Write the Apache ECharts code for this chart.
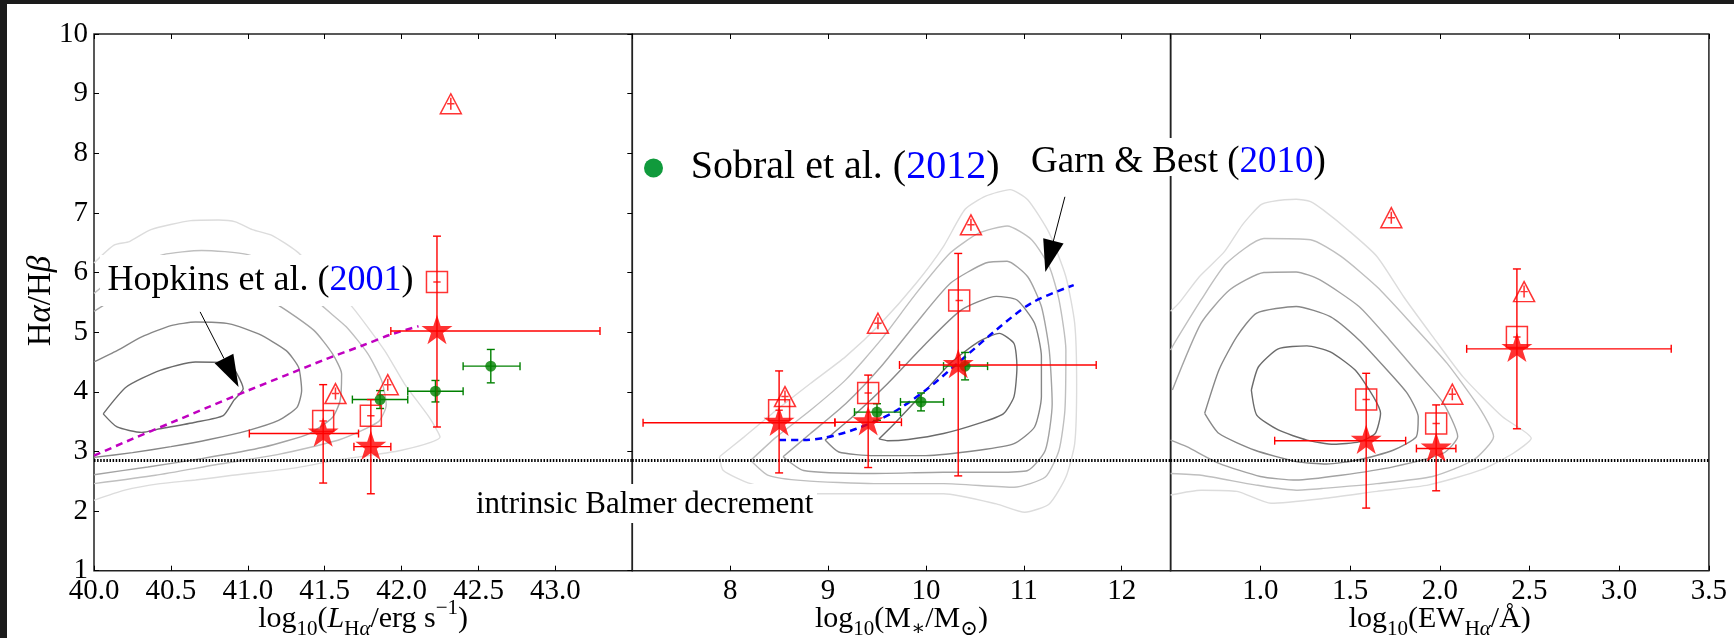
<!DOCTYPE html>
<html><head><meta charset="utf-8">
<script src="https://cdn.jsdelivr.net/npm/echarts@6/dist/echarts.min.js"></script>
<style>html,body{margin:0;padding:0;background:#fff;}#c{width:1734px;height:638px;}</style>
</head><body><div id="c"></div>
<script>
// ---------------- DATA ----------------
const yTicks = {min: 1, max: 10, interval: 1};
const p1Range = {min: 40, max: 43.5, interval: 0.5};
const p2Range = {min: 7, max: 12.5, interval: 1};
const p3Range = {min: 0.5, max: 3.5, interval: 0.5};
const BALMER = 2.86;

// [x, y, xlo, xhi, ylo, yhi]
const p1Stars = [[41.49,3.30,41.01,41.72,2.47,4.12],[41.80,3.08,41.69,41.93,2.29,3.87],[42.23,5.02,41.93,43.29,3.41,6.61]];
const p1Squares = [[41.49,3.51],[41.80,3.60],[42.23,5.84]];
const p1Triangles = [[41.57,3.97],[41.91,4.12],[42.32,8.83]];
const p1Sobral = [[41.86,3.87,41.68,42.04,3.72,4.02],[42.22,4.01,42.04,42.40,3.83,4.19],[42.58,4.43,42.40,42.77,4.15,4.71]];
const p1Hopkins = [[40.0,2.93],[40.25,3.21],[40.5,3.48],[40.75,3.75],[41.0,4.02],[41.25,4.28],[41.5,4.54],[41.75,4.78],[41.93,4.96],[42.11,5.10]];
const p1Arrow = [[40.69,5.34,40.94,4.08]];

const p2Stars = [[8.50,3.48,7.11,9.07,2.64,4.35],[9.41,3.49,9.07,9.75,2.73,4.28],[10.33,4.45,9.73,11.74,2.59,6.32]];
const p2Squares = [[8.50,3.69],[9.41,3.98],[10.34,5.53]];
const p2Triangles = [[8.56,3.92],[9.51,5.15],[10.46,6.80]];
const p2Sobral = [[9.50,3.66,9.27,9.74,3.52,3.80],[9.95,3.83,9.74,10.18,3.68,3.98],[10.40,4.43,10.18,10.63,4.20,4.66]];
const p2Garn = [[8.50,3.19],[8.75,3.19],[8.97,3.23],[9.29,3.38],[9.65,3.64],[10.0,4.03],[10.36,4.53],[10.72,5.04],[11.08,5.49],[11.51,5.79]];
const p2Arrow = [[11.42,7.27,11.22,6.01]];

const p3Stars = [[1.59,3.18,1.08,1.81,2.05,4.31],[1.98,3.05,1.87,2.09,2.34,3.78],[2.43,4.72,2.15,3.29,3.38,6.06]];
const p3Squares = [[1.59,3.87],[1.98,3.47],[2.43,4.92]];
const p3Triangles = [[1.73,6.92],[2.07,3.96],[2.47,5.68]];

// contour levels (inner -> outer)
const p1C1 = [[40.06,3.63],[40.21,4.08],[40.43,4.36],[40.66,4.50],[40.88,4.48],[40.93,4.30],[40.97,4.05],[40.91,3.86],[40.84,3.60],[40.66,3.49],[40.43,3.38],[40.31,3.32],[40.15,3.41],[40.06,3.63]];
const p1C2 = [[40.0,4.50],[40.15,4.69],[40.31,4.92],[40.50,5.11],[40.66,5.17],[40.88,5.14],[41.07,4.97],[41.25,4.69],[41.33,4.41],[41.35,4.02],[41.32,3.74],[41.2,3.52],[41.0,3.35],[40.75,3.2],[40.5,3.08],[40.25,2.98],[40.0,2.90]];
const p1C3 = [[40.0,5.35],[40.2,5.65],[40.45,5.85],[40.7,5.88],[40.95,5.78],[41.2,5.45],[41.43,5.03],[41.55,4.64],[41.61,4.3],[41.6,3.85],[41.55,3.57],[41.4,3.3],[41.1,3.07],[40.7,2.88],[40.35,2.74],[40.0,2.61]];
const p1C4 = [[40.0,5.65],[40.2,6.05],[40.45,6.3],[40.7,6.37],[41.0,6.3],[41.3,5.95],[41.48,5.45],[41.64,5.09],[41.78,4.64],[41.87,4.19],[41.9,3.78],[41.85,3.5],[41.6,3.2],[41.2,2.95],[40.8,2.78],[40.4,2.6],[40.0,2.46]];
const p1C5 = [[40.0,6.16],[40.13,6.46],[40.23,6.52],[40.37,6.72],[40.63,6.87],[40.81,6.88],[40.92,6.85],[41.03,6.72],[41.16,6.62],[41.32,6.35],[41.5,5.9],[41.68,5.42],[41.89,4.69],[42.02,4.13],[42.18,3.57],[42.25,3.24],[42.0,3.02],[41.57,2.85],[41.3,2.72],[40.9,2.6],[40.66,2.52],[40.43,2.46],[40.2,2.35],[40.0,2.18]];

const p2C1 = [[9.52,3.21],[9.68,3.47],[10.0,4.03],[10.25,4.48],[10.54,4.84],[10.75,4.98],[10.90,4.81],[10.93,4.42],[10.90,3.92],[10.79,3.63],[10.54,3.47],[10.18,3.30],[9.82,3.20],[9.61,3.18],[9.52,3.21]];
const p2C2 = [[8.97,3.19],[9.25,3.58],[9.61,4.14],[10.0,4.81],[10.36,5.37],[10.72,5.60],[10.93,5.54],[11.11,5.15],[11.18,4.59],[11.18,3.92],[11.11,3.41],[10.90,3.13],[10.54,3.02],[10.0,2.93],[9.47,2.93],[9.11,2.99],[8.97,3.19]];
const p2C3 = [[8.54,2.91],[8.82,3.30],[9.18,3.80],[9.54,4.42],[9.90,5.15],[10.25,5.82],[10.61,6.16],[10.83,6.19],[11.04,5.93],[11.18,5.43],[11.26,4.70],[11.29,3.80],[11.22,3.02],[11.04,2.68],[10.72,2.65],[10.18,2.65],[9.47,2.63],[8.75,2.68],[8.54,2.91]];
const p2C4 = [[8.21,2.85],[8.47,3.24],[8.82,3.69],[9.18,4.20],[9.54,4.87],[9.90,5.65],[10.25,6.33],[10.54,6.66],[10.83,6.78],[11.08,6.55],[11.26,6.10],[11.36,5.54],[11.43,4.70],[11.42,3.69],[11.36,3.02],[11.22,2.57],[10.90,2.40],[10.18,2.46],[9.47,2.46],[8.75,2.51],[8.39,2.60],[8.21,2.85]];
const p2C5 = [[7.89,2.91],[8.14,3.24],[8.47,3.69],[8.82,4.14],[9.18,4.59],[9.54,5.15],[9.90,5.82],[10.18,6.44],[10.40,7.06],[10.61,7.28],[10.86,7.39],[11.04,7.22],[11.26,6.66],[11.43,5.93],[11.52,5.15],[11.54,4.14],[11.52,3.13],[11.43,2.57],[11.26,2.12],[11.01,1.98],[10.72,2.12],[10.18,2.29],[9.47,2.29],[8.75,2.29],[8.21,2.46],[7.93,2.68],[7.89,2.91]];

const p3C1 = [[0.95,4.03],[0.99,4.42],[1.10,4.72],[1.26,4.77],[1.39,4.67],[1.53,4.36],[1.63,3.92],[1.67,3.64],[1.64,3.30],[1.55,3.16],[1.41,3.12],[1.26,3.19],[1.10,3.36],[0.98,3.61],[0.95,4.03]];
const p3C2 = [[0.69,3.64],[0.77,4.37],[0.87,4.93],[0.98,5.32],[1.20,5.43],[1.39,5.26],[1.55,4.87],[1.69,4.42],[1.82,3.97],[1.88,3.58],[1.87,3.25],[1.74,3.02],[1.55,2.86],[1.37,2.79],[1.20,2.83],[0.97,3.02],[0.77,3.30],[0.69,3.64]];
const p3C3 = [[0.51,4.03],[0.67,5.15],[0.83,5.71],[1.02,6.0],[1.20,6.01],[1.33,5.88],[1.55,5.43],[1.72,4.87],[1.88,4.31],[2.02,3.81],[2.10,3.25],[2.02,2.97],[1.74,2.74],[1.45,2.60],[1.20,2.52],[1.00,2.58],[0.77,2.80],[0.59,3.08],[0.50,3.19]];
const p3C4 = [[0.50,4.7],[0.52,4.81],[0.67,5.54],[0.81,6.15],[1.02,6.57],[1.28,6.55],[1.45,6.27],[1.65,5.76],[1.84,5.15],[2.04,4.48],[2.23,3.69],[2.30,3.25],[2.19,2.86],[1.96,2.58],[1.65,2.46],[1.35,2.38],[1.20,2.35],[0.97,2.44],[0.67,2.60],[0.50,2.63]];
const p3C5 = [[0.50,5.35],[0.55,5.5],[0.66,5.93],[0.8,6.35],[0.9,6.8],[1.00,7.13],[1.06,7.19],[1.20,7.23],[1.28,7.19],[1.35,7.05],[1.49,6.71],[1.65,6.27],[1.80,5.59],[1.96,4.93],[2.13,4.25],[2.35,3.58],[2.51,3.22],[2.41,2.97],[2.23,2.69],[1.94,2.44],[1.65,2.33],[1.35,2.21],[1.06,2.13],[0.87,2.33],[0.67,2.35],[0.50,2.27]];

// ---------------- LAYOUT / STYLE ----------------
const FONT = '"Liberation Serif", "DejaVu Serif", serif';
const G_LEFT = 94, G_TOP = 34, G_W = 538.3, G_H = 536.7;
const RED = '#ff0000', GREEN = '#008000';
const contourColors = ['#6b6b6b','#878787','#a3a3a3','#bfbfbf','#dcdcdc'];
const STAR = 'path://M0,-10L2.245,-3.09L9.511,-3.09L3.633,1.18L5.878,8.09L0,3.82L-5.878,8.09L-3.633,1.18L-9.511,-3.09L-2.245,-3.09Z';
const SQUARE = 'path://M-10,-10L10,-10L10,10L-10,10Z M-3.5,0L3.5,0';
const TRI = 'path://M0,-10L10,10L-10,10Z M0,-6L0,6 M-3.5,0L3.5,0';

const TICK_FS = 29;
const TITLE_FS = 30;
const nameRich = {
  a: {fontFamily: FONT, fontSize: TITLE_FS, lineHeight: 42, color: '#000'},
  i: {fontFamily: FONT, fontSize: TITLE_FS, lineHeight: 42, fontStyle: 'italic', color: '#000'},
  s: {fontFamily: FONT, fontSize: 21, lineHeight: 13, verticalAlign: 'bottom', color: '#000'},
  si: {fontFamily: FONT, fontSize: 21, lineHeight: 13, verticalAlign: 'bottom', fontStyle: 'italic', color: '#000'},
  p: {fontFamily: FONT, fontSize: 21, lineHeight: 30, verticalAlign: 'top', color: '#000'}
};

function bottomX(gi, r, name, fmt, showMin, showMax) {
  return {
    gridIndex: gi, type: 'value', position: 'bottom', min: r.min, max: r.max, interval: r.interval,
    axisLine: {show: false}, splitLine: {show: false},
    axisTick: {show: true, inside: true, length: 5, lineStyle: {color: '#000', width: 1}},
    axisLabel: {show: true, margin: 6, color: '#000', fontFamily: FONT, fontSize: TICK_FS, formatter: fmt,
      showMinLabel: showMin, showMaxLabel: showMax},
    name: name, nameLocation: 'middle', nameGap: 27, nameMoveOverlap: false,
    nameTextStyle: {fontFamily: FONT, fontSize: TITLE_FS, color: '#000', rich: nameRich}
  };
}
function topX(gi, r) {
  return {
    gridIndex: gi, type: 'value', position: 'top', min: r.min, max: r.max, interval: r.interval,
    axisLine: {show: false}, splitLine: {show: false}, axisLabel: {show: false},
    axisTick: {show: true, inside: true, length: 5, lineStyle: {color: '#000', width: 1}}
  };
}
function yAx(gi, pos, labels, ticks) {
  return {
    gridIndex: gi, type: 'value', position: pos, min: yTicks.min, max: yTicks.max, interval: yTicks.interval,
    axisLine: {show: false}, splitLine: {show: false},
    axisTick: {show: ticks, inside: true, length: 5, lineStyle: {color: '#000', width: 1}},
    axisLabel: {show: labels, margin: 6, color: '#000', fontFamily: FONT, fontSize: TICK_FS}
  };
}

function contourSeries(arrs, gi) {
  return arrs.map((d, k) => ({
    type: 'line', xAxisIndex: gi, yAxisIndex: gi, data: d, symbol: 'none', showSymbol: false,
    smooth: 0.2, silent: true, z: 1, lineStyle: {color: contourColors[k], width: 1.4}
  }));
}
function errSeries(data, gi, color, cap, z) {
  return {
    type: 'custom', xAxisIndex: gi, yAxisIndex: gi, data: data, z: z, silent: true,
    encode: {x: 0, y: 1},
    renderItem: function (params, api) {
      const x = api.value(0), y = api.value(1);
      const a = api.coord([api.value(2), y]), b = api.coord([api.value(3), y]);
      const c = api.coord([x, api.value(4)]), d = api.coord([x, api.value(5)]);
      const st = {stroke: color, lineWidth: 1.4, fill: null};
      const L = (x1, y1, x2, y2) => ({type: 'line', shape: {x1, y1, x2, y2}, style: st});
      return {type: 'group', children: [
        L(a[0], a[1], b[0], b[1]), L(c[0], c[1], d[0], d[1]),
        L(a[0], a[1] - cap, a[0], a[1] + cap), L(b[0], b[1] - cap, b[0], b[1] + cap),
        L(c[0] - cap, c[1], c[0] + cap, c[1]), L(d[0] - cap, d[1], d[0] + cap, d[1])
      ]};
    }
  };
}
function arrowSeries(data, gi) {
  return {
    type: 'custom', xAxisIndex: gi, yAxisIndex: gi, data: data, z: 20, silent: true,
    renderItem: function (params, api) {
      const p0 = api.coord([api.value(0), api.value(1)]);
      const p1 = api.coord([api.value(2), api.value(3)]);
      const dx = p1[0] - p0[0], dy = p1[1] - p0[1], len = Math.hypot(dx, dy);
      const ux = dx / len, uy = dy / len, HL = 32, HW = 10.5;
      const bx = p1[0] - ux * HL, by = p1[1] - uy * HL;
      return {type: 'group', children: [
        {type: 'line', shape: {x1: p0[0], y1: p0[1], x2: bx, y2: by}, style: {stroke: '#000', lineWidth: 1}},
        {type: 'polygon', shape: {points: [[p1[0], p1[1]], [bx - uy * HW, by + ux * HW], [bx + uy * HW, by - ux * HW]]}, style: {fill: '#000'}}
      ]};
    }
  };
}
function markerSeries(gi, stars, squares, tris) {
  return [
    {type: 'scatter', xAxisIndex: gi, yAxisIndex: gi, data: squares, symbol: SQUARE, symbolSize: [21, 21], z: 8, silent: true,
      itemStyle: {color: 'rgba(0,0,0,0)', borderColor: RED, borderWidth: 1.5}},
    {type: 'scatter', xAxisIndex: gi, yAxisIndex: gi, data: tris, symbol: TRI, symbolSize: [21, 20], z: 8, silent: true,
      itemStyle: {color: 'rgba(0,0,0,0)', borderColor: RED, borderWidth: 1.5}},
    {type: 'scatter', xAxisIndex: gi, yAxisIndex: gi, data: stars.map(s => [s[0], s[1]]), symbol: STAR, symbolSize: 31,
      symbolKeepAspect: true, symbolOffset: [0, -1.5], z: 10, silent: true, itemStyle: {color: RED}}
  ];
}
function sobralSeries(gi, pts) {
  return [errSeries(pts, gi, GREEN, 4, 6),
    {type: 'scatter', xAxisIndex: gi, yAxisIndex: gi, data: pts.map(s => [s[0], s[1]]), symbol: 'circle', symbolSize: 11,
      z: 9, silent: true, itemStyle: {color: GREEN}}];
}
function balmerSeries(gi) {
  return {type: 'line', xAxisIndex: gi, yAxisIndex: gi, data: [], z: 3, silent: true,
    markLine: {silent: true, symbol: 'none', label: {show: false}, animation: false,
      lineStyle: {color: '#000', width: 3, type: [1.5, 1.6]}, data: [{yAxis: BALMER}]}};
}
function dashSeries(gi, data, color) {
  return {type: 'line', xAxisIndex: gi, yAxisIndex: gi, data: data, symbol: 'none', showSymbol: false, smooth: 0.3,
    z: 4, silent: true, lineStyle: {color: color, width: 2.5, type: [7, 5]}};
}

const series = [].concat(
  contourSeries([p1C1, p1C2, p1C3, p1C4, p1C5], 0),
  contourSeries([p2C1, p2C2, p2C3, p2C4, p2C5], 1),
  contourSeries([p3C1, p3C2, p3C3, p3C4, p3C5], 2),
  [balmerSeries(0), balmerSeries(1), balmerSeries(2)],
  [dashSeries(0, p1Hopkins, '#c000c0'), dashSeries(1, p2Garn, '#0000ff')],
  sobralSeries(0, p1Sobral), sobralSeries(1, p2Sobral),
  [errSeries(p1Stars, 0, RED, 4, 7), errSeries(p2Stars, 1, RED, 4, 7), errSeries(p3Stars, 2, RED, 4, 7)],
  markerSeries(0, p1Stars, p1Squares, p1Triangles),
  markerSeries(1, p2Stars, p2Squares, p2Triangles),
  markerSeries(2, p3Stars, p3Squares, p3Triangles),
  [arrowSeries(p1Arrow, 0), arrowSeries(p2Arrow, 1)]
);

const serif = (fs) => fs + 'px "Liberation Serif"';
const serifI = (fs) => 'italic ' + fs + 'px "Liberation Serif"';
const option = {
  animation: false,
  backgroundColor: '#ffffff',
  textStyle: {fontFamily: FONT, color: '#000'},
  grid: [0, 1, 2].map(i => ({left: G_LEFT + i * G_W, top: G_TOP, width: G_W, height: G_H, show: true,
    borderColor: '#222', borderWidth: 1.5, backgroundColor: 'rgba(0,0,0,0)', containLabel: false, outerBoundsMode: 'none'})),
  xAxis: [
    bottomX(0, p1Range, '{a|log}{s|10}{a|(}{i|L}{s|H}{si|α}{a|/erg s}{p|−1}{a|)}', v => v.toFixed(1), true, false),
    bottomX(1, p2Range, '{a|log}{s|10}{a|(M}{s|∗}{a|/M}{s|⊙}{a|)}', v => String(v), false, false),
    bottomX(2, p3Range, '{a|log}{s|10}{a|(EW}{s|H}{si|α}{a|/Å)}', v => v.toFixed(1), false, true),
    topX(0, p1Range), topX(1, p2Range), topX(2, p3Range)
  ],
  yAxis: [yAx(0, 'left', true, true), yAx(1, 'left', false, false), yAx(2, 'left', false, false), yAx(0, 'right', false, true)],
  series: series,
  graphic: [
    {type: 'rect', shape: {x: 0, y: 0, width: 7, height: 638}, style: {fill: '#1b1b1b'}, z: 200},
    {type: 'rect', shape: {x: 0, y: 0, width: 1734, height: 4}, style: {fill: '#1b1b1b'}, z: 200},
    {type: 'text', x: 41, y: 301, rotation: Math.PI / 2, z: 101, style: {text: 'H{g|α}/H{g|β}', font: serif(33), fill: '#000',
      align: 'center', verticalAlign: 'middle', rich: {g: {font: serifI(33), fill: '#000'}}}},
    {type: 'rect', shape: {x: 100, y: 255, width: 315, height: 51}, style: {fill: '#fff'}, z: 100},
    {type: 'text', x: 107.5, y: 281, z: 101, style: {text: 'Hopkins et al. ({b|2001})', font: serif(36), fill: '#000',
      align: 'left', verticalAlign: 'middle', rich: {b: {fill: '#0000ff', font: serif(36)}}}},
    {type: 'circle', shape: {cx: 653.5, cy: 168, r: 9.5}, style: {fill: '#109a3c'}, z: 101},
    {type: 'text', x: 690.7, y: 167, z: 101, style: {text: 'Sobral et al. ({b|2012})', font: serif(40), fill: '#000',
      align: 'left', verticalAlign: 'middle', rich: {b: {fill: '#0000ff', font: serif(40)}}}},
    {type: 'rect', shape: {x: 1025, y: 138, width: 305, height: 38}, style: {fill: '#fff'}, z: 100},
    {type: 'text', x: 1031, y: 162.5, z: 101, style: {text: 'Garn & Best ({b|2010})', font: serif(37), fill: '#000',
      align: 'left', verticalAlign: 'middle', rich: {b: {fill: '#0000ff', font: serif(37)}}}},
    {type: 'rect', shape: {x: 470, y: 484, width: 347, height: 39}, style: {fill: '#fff'}, z: 100},
    {type: 'text', x: 476, y: 504.5, z: 101, style: {text: 'intrinsic Balmer decrement', font: serif(31), fill: '#000',
      align: 'left', verticalAlign: 'middle'}}
  ]
};
const chart = echarts.init(document.getElementById('c'), null, {renderer: 'canvas'});
chart.setOption(option);
</script></body></html>
